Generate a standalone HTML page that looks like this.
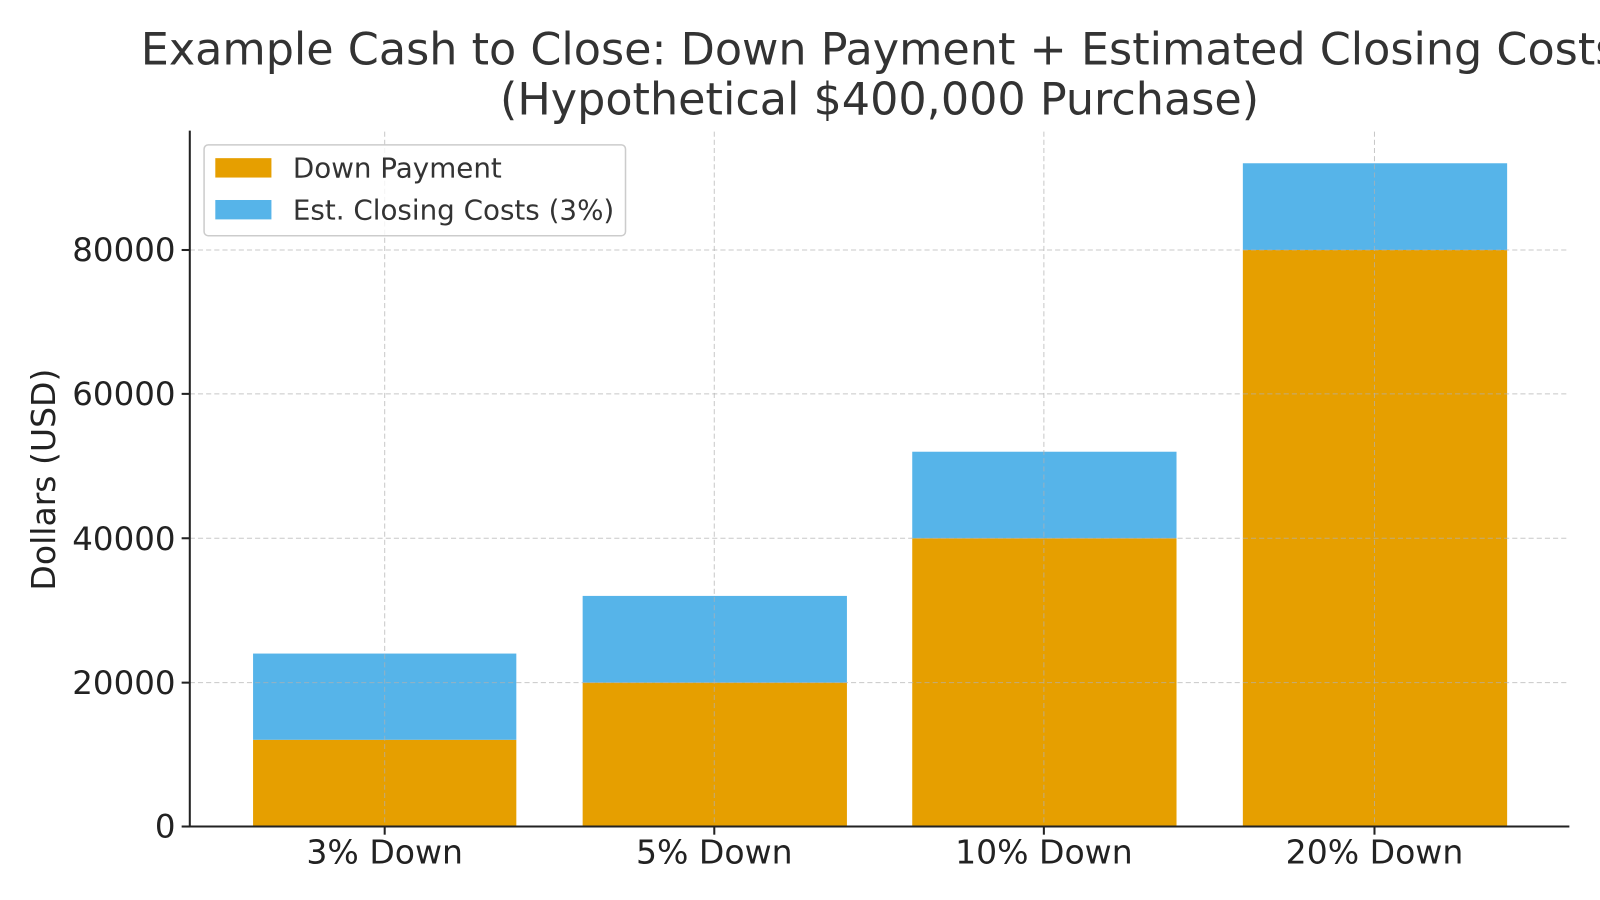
<!DOCTYPE html>
<html><head><meta charset="utf-8"><style>body{margin:0;background:#fff}svg{display:block}</style></head>
<body>
<svg width="1600" height="900" xmlns="http://www.w3.org/2000/svg" font-family="DejaVu Sans, Liberation Sans, sans-serif" fill="#222">
<rect width="1600" height="900" fill="#fff"/>
<g transform="scale(1.0204)">
<g>
<rect x="248" y="725" width="258" height="85" fill="#E69F00"/>
<rect x="248" y="640.5" width="258" height="84.5" fill="#56B4E9"/>
<rect x="571" y="669" width="259" height="141" fill="#E69F00"/>
<rect x="571" y="584" width="259" height="85" fill="#56B4E9"/>
<rect x="894" y="527.5" width="259" height="282.5" fill="#E69F00"/>
<rect x="894" y="442.7" width="259" height="84.8" fill="#56B4E9"/>
<rect x="1218" y="245" width="259" height="565" fill="#E69F00"/>
<rect x="1218" y="160" width="259" height="85" fill="#56B4E9"/>
</g>
<g stroke="#b0b0b0" stroke-opacity="0.7" stroke-dasharray="5,3" stroke-width="1">
<line x1="186" x2="1538" y1="669" y2="669"/>
<line x1="186" x2="1538" y1="527.5" y2="527.5"/>
<line x1="186" x2="1538" y1="386" y2="386"/>
<line x1="186" x2="1538" y1="245" y2="245"/>
<line x1="377" x2="377" y1="129" y2="810"/>
<line x1="700" x2="700" y1="129" y2="810"/>
<line x1="1023" x2="1023" y1="129" y2="810"/>
<line x1="1347" x2="1347" y1="129" y2="810"/>
</g>
<g stroke="#222" stroke-width="2">
<line x1="186" x2="186" y1="128" y2="811"/>
<line x1="185" x2="1538" y1="810" y2="810"/>
<line x1="178" x2="186" y1="810" y2="810"/><line x1="178" x2="186" y1="669" y2="669"/>
<line x1="178" x2="186" y1="527.5" y2="527.5"/><line x1="178" x2="186" y1="386" y2="386"/><line x1="178" x2="186" y1="245" y2="245"/>
<line x1="377" x2="377" y1="810" y2="818"/><line x1="700" x2="700" y1="810" y2="818"/>
<line x1="1023" x2="1023" y1="810" y2="818"/><line x1="1347" x2="1347" y1="810" y2="818"/>
</g>
<g font-size="31.8" text-anchor="end">
<text x="172" y="821">0</text><text x="172" y="680">20000</text><text x="172" y="539">40000</text>
<text x="172" y="397">60000</text><text x="172" y="256">80000</text>
</g>
<g font-size="32.4" text-anchor="middle">
<text x="377" y="846">3% Down</text><text x="700" y="846">5% Down</text>
<text x="1023" y="846">10% Down</text><text x="1347" y="846">20% Down</text>
</g>
<text transform="translate(54,470) rotate(-90)" font-size="32.4" text-anchor="middle">Dollars (USD)</text>
<g font-size="43.6" text-anchor="middle" fill="#333">
<text x="862" y="63">Example Cash to Close: Down Payment + Estimated Closing Costs</text>
<text x="862" y="112">(Hypothetical $400,000 Purchase)</text>
</g>
<rect x="200" y="142" width="413" height="89" rx="4" fill="#fff" fill-opacity="0.8" stroke="#ccc" stroke-width="1.5"/>
<rect x="211" y="155" width="55" height="19" fill="#E69F00"/>
<rect x="211" y="196" width="55" height="19" fill="#56B4E9"/>
<g font-size="27.2" fill="#333"><text x="287" y="174">Down Payment</text><text x="287" y="215">Est. Closing Costs (3%)</text></g>
</g>
</svg>
</body></html>
